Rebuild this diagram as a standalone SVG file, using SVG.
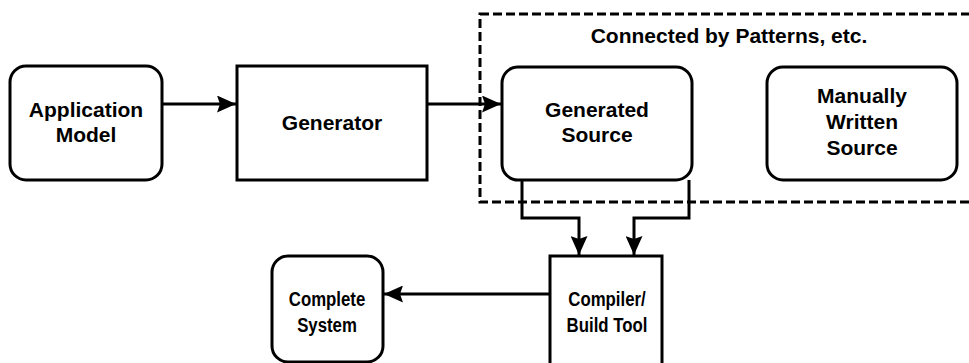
<svg xmlns="http://www.w3.org/2000/svg" width="969" height="363" viewBox="0 0 969 363">
<defs>
<style>
.box{fill:#fff;stroke:#000;stroke-width:3}
.t{font-family:"Liberation Sans",Arial,sans-serif;font-weight:bold;font-size:21px;fill:#000;text-anchor:middle}
.c{fill:none;stroke:#000;stroke-width:3}
</style>
<marker id="ah" markerWidth="19" markerHeight="17" viewBox="0 0 19 17" refX="19" refY="8.5" orient="auto" markerUnits="userSpaceOnUse">
<path d="M0,0 L19,8.5 L0,17 L3,8.5 z" fill="#000"/>
</marker>
</defs>
<rect x="0" y="0" width="969" height="363" fill="#fff"/>
<g id="group-patterns">
<rect x="480" y="14" width="495" height="188" fill="none" stroke="#000" stroke-width="3" stroke-dasharray="9,4"/>
<text class="t" x="729" y="43">Connected by Patterns, etc.</text>
</g>
<g id="app-model">
<rect class="box" x="10" y="66" width="152" height="114" rx="16"/>
<text class="t" x="86" y="117">Application</text>
<text class="t" x="86" y="142">Model</text>
</g>
<g id="generator">
<rect class="box" x="237" y="66" width="190" height="114"/>
<text class="t" x="332" y="130">Generator</text>
</g>
<g id="generated-source">
<rect class="box" x="502" y="67" width="190" height="113" rx="16"/>
<text class="t" x="597" y="117">Generated</text>
<text class="t" x="597" y="142">Source</text>
</g>
<g id="manual-source">
<rect class="box" x="767" y="67" width="190" height="113" rx="16"/>
<text class="t" x="862" y="103">Manually</text>
<text class="t" x="862" y="129">Written</text>
<text class="t" x="862" y="155">Source</text>
</g>
<g id="compiler">
<rect class="box" x="550" y="256" width="112" height="112"/>
<g transform="translate(607,0) scale(0.8,1)">
<text class="t" x="0" y="306">Compiler/</text>
<text class="t" x="0" y="332">Build Tool</text>
</g>
</g>
<g id="complete-system">
<rect class="box" x="272" y="256" width="111" height="106" rx="16"/>
<g transform="translate(327,0) scale(0.8,1)">
<text class="t" x="0" y="306">Complete</text>
<text class="t" x="0" y="332">System</text>
</g>
</g>
<g id="connectors">
<path class="c" d="M162,104 L236,104" marker-end="url(#ah)"/>
<path class="c" d="M427,104 L501,104" marker-end="url(#ah)"/>
<path class="c" d="M522,180 L522,218 L579,218 L579,255" marker-end="url(#ah)"/>
<path class="c" d="M689,180 L689,218 L634,218 L634,255" marker-end="url(#ah)"/>
<path class="c" d="M550,294 L384,294" marker-end="url(#ah)"/>
</g>
</svg>
